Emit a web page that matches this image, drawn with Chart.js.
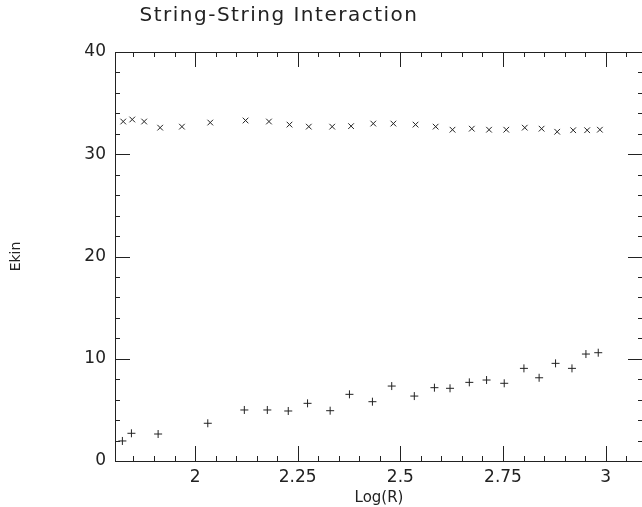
<!DOCTYPE html>
<html>
<head>
<meta charset="utf-8">
<script src="https://cdn.jsdelivr.net/npm/chart.js@4.4.0/dist/chart.umd.min.js"></script>
<style>
    body { margin: 0; background: #fff; overflow: hidden; }
    #wrap { width: 650px; height: 507px; }
</style>
</head>
<body>
<div id="wrap"><canvas id="chart"></canvas></div>
<script>
// upper series (x markers)
const upperLogR = [1.825, 1.847, 1.876, 1.915, 1.968, 2.037, 2.123, 2.180, 2.230, 2.277, 2.334, 2.380, 2.434,
    2.483, 2.537, 2.586, 2.627, 2.674, 2.716, 2.758, 2.803, 2.844, 2.882, 2.921, 2.955, 2.986];
const upperEkin = [33.2, 33.4, 33.2, 32.6, 32.7, 33.1, 33.3, 33.2, 32.9, 32.7, 32.7, 32.75, 33.0,
    33.0, 32.9, 32.7, 32.4, 32.5, 32.4, 32.4, 32.6, 32.5, 32.2, 32.35, 32.35, 32.4];

// lower series (+ markers)
const lowerLogR = [1.823, 1.845, 1.910, 2.031, 2.120, 2.176, 2.227, 2.274, 2.329, 2.376, 2.432, 2.479,
    2.534, 2.583, 2.621, 2.668, 2.710, 2.753, 2.801, 2.838, 2.878, 2.918, 2.952, 2.982];
const lowerEkin = [1.96, 2.71, 2.64, 3.69, 4.99, 4.99, 4.89, 5.64, 4.92, 6.52, 5.80, 7.33,
    6.35, 7.17, 7.11, 7.69, 7.92, 7.60, 9.06, 8.14, 9.55, 9.06, 10.46, 10.59];

const xTicks = [2, 2.25, 2.5, 2.75, 3];
const xTickLabels = ['2', '2.25', '2.5', '2.75', '3'];
const yTicks = [0, 10, 20, 30, 40];
const yTickLabels = ['0', '10', '20', '30', '40'];

const ink = '#222';
const xMin = 1.805, xMax = 3.091;

function toPoints(xs, ys) {
    return xs.map((v, i) => ({ x: v, y: ys[i] }));
}

// frame, inward ticks on all four sides, and the title
const frameTicks = {
    id: 'frameTicks',
    afterDatasetsDraw(chart) {
        const { ctx, chartArea: a, scales: { x, y } } = chart;
        ctx.save();
        ctx.strokeStyle = ink;
        ctx.lineWidth = 1;
        ctx.strokeRect(Math.round(a.left) + 0.5, Math.round(a.top) + 0.5,
            Math.round(a.width), Math.round(a.height));

        ctx.beginPath();
        for (let v = 1.85; v < xMax; v += 0.05) {
            const val = Math.round(v * 100) / 100;
            const major = Math.abs(val * 4 - Math.round(val * 4)) < 1e-6;
            const len = major ? 15 : 5;
            const px = Math.round(x.getPixelForValue(val)) + 0.5;
            ctx.moveTo(px, a.bottom); ctx.lineTo(px, a.bottom - len);
            ctx.moveTo(px, a.top); ctx.lineTo(px, a.top + len);
        }
        for (let v = 2; v < 40; v += 2) {
            const len = v % 10 === 0 ? 15 : 5;
            const py = Math.round(y.getPixelForValue(v)) + 0.5;
            ctx.moveTo(a.left, py); ctx.lineTo(a.left + len, py);
            ctx.moveTo(a.right, py); ctx.lineTo(a.right - len, py);
        }
        ctx.stroke();

        ctx.fillStyle = ink;
        ctx.font = '20px "DejaVu Sans"';
        ctx.letterSpacing = '1.5px';
        ctx.textAlign = 'center';
        ctx.textBaseline = 'middle';
        ctx.fillText('String-String Interaction', 279, 16);
        ctx.restore();
    }
};

const ctx = document.getElementById('chart').getContext('2d');

new Chart(ctx, {
    type: 'scatter',
    data: {
        datasets: [
            {
                label: 'upper',
                data: toPoints(upperLogR, upperEkin),
                pointStyle: 'crossRot',
                pointRadius: 4,
                borderColor: ink,
                backgroundColor: ink,
                borderWidth: 1
            },
            {
                label: 'lower',
                data: toPoints(lowerLogR, lowerEkin),
                pointStyle: 'cross',
                pointRadius: 4,
                borderColor: ink,
                backgroundColor: ink,
                borderWidth: 1
            }
        ]
    },
    options: {
        responsive: true,
        maintainAspectRatio: false,
        animation: false,
        layout: { padding: { top: 52, right: 7, bottom: 0, left: 0 } },
        plugins: {
            legend: { display: false },
            tooltip: { enabled: false }
        },
        scales: {
            x: {
                type: 'linear',
                min: xMin,
                max: xMax,
                grid: { display: false, drawTicks: false },
                border: { display: false },
                afterBuildTicks: s => { s.ticks = xTicks.map(v => ({ value: v })); },
                afterFit: s => { s.height = 46; },
                ticks: {
                    color: ink,
                    padding: 6,
                    maxRotation: 0,
                    font: { family: 'DejaVu Sans', size: 17 },
                    callback: v => xTickLabels[xTicks.indexOf(v)]
                },
                title: {
                    display: true,
                    text: 'Log(R)',
                    color: ink,
                    font: { family: 'DejaVu Sans', size: 15 },
                    padding: { top: 0, bottom: 0 }
                }
            },
            y: {
                min: 0,
                max: 40,
                grid: { display: false, drawTicks: false },
                border: { display: false },
                afterBuildTicks: s => { s.ticks = yTicks.map(v => ({ value: v })); },
                afterFit: s => { s.width = 115; },
                ticks: {
                    color: ink,
                    padding: 9,
                    font: { family: 'DejaVu Sans', size: 17 },
                    callback: v => yTickLabels[yTicks.indexOf(v)]
                },
                title: {
                    display: true,
                    text: 'Ekin',
                    color: ink,
                    font: { family: 'DejaVu Sans', size: 14 },
                    padding: { top: 8, bottom: 0 }
                }
            }
        }
    },
    plugins: [frameTicks]
});
</script>
</body>
</html>
